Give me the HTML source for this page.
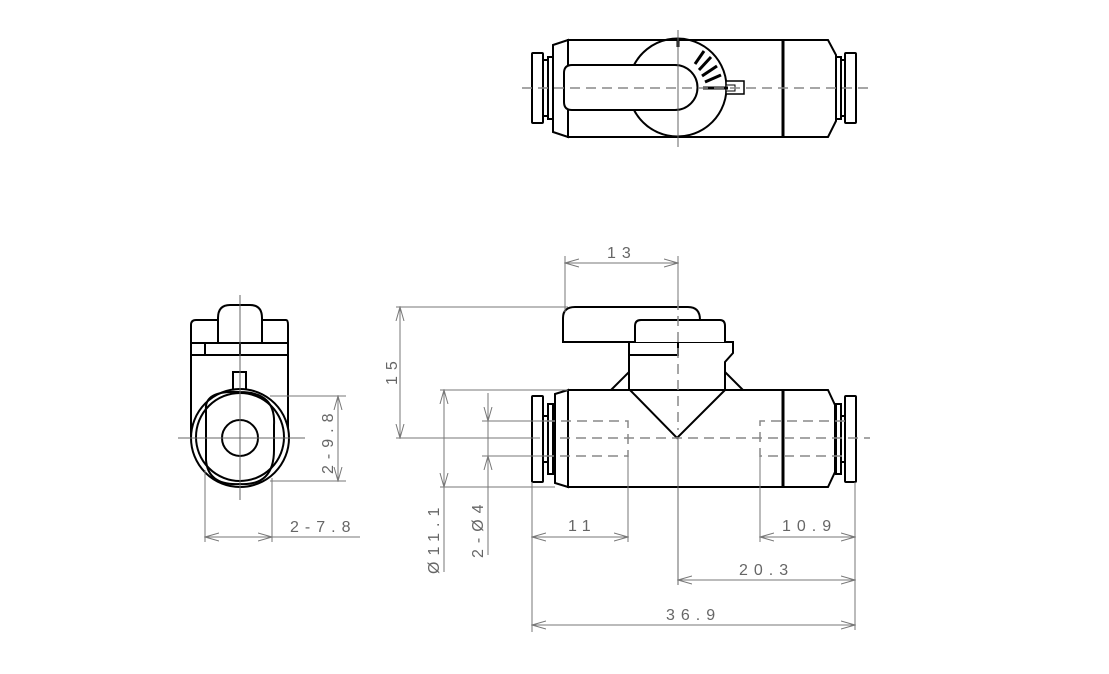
<!DOCTYPE html>
<html><head><meta charset="utf-8"><style>
html,body{margin:0;padding:0;background:#fff;}
svg{display:block;}
text{font-family:"Liberation Sans",sans-serif;font-size:16px;fill:#666;letter-spacing:6px;}
.k{stroke:#000;stroke-width:2;fill:#fff;}
.kn{stroke:#000;stroke-width:2;fill:none;}
.d{stroke:#777;stroke-width:1;fill:none;}
.c{stroke:#666;stroke-width:1;fill:none;}
.h{stroke:#888;stroke-width:1.5;fill:none;stroke-dasharray:10,6;}
</style></head><body>
<svg width="1109" height="674" viewBox="0 0 1109 674">
<defs>
<marker id="a" markerWidth="15" markerHeight="10" refX="14" refY="5" orient="auto-start-reverse" markerUnits="userSpaceOnUse">
<path d="M0,1 L14,5 L0,9" fill="none" stroke="#777" stroke-width="1"/>
</marker>
</defs>

<!-- TOP VIEW -->
<g>
<rect class="k" x="532" y="53" width="11" height="70" rx="1"/>
<rect class="k" x="543" y="60" width="5" height="56"/>
<rect class="k" x="548" y="57" width="5" height="62"/>
<path class="k" d="M553,45 L568,40 L568,137 L553,132 Z"/>
<rect class="k" x="568" y="40" width="215" height="97"/>
<path class="k" d="M783,40 L828,40 L836,55 L836,121 L828,137 L783,137 Z"/>
<line x1="783" y1="40" x2="783" y2="137" stroke="#000" stroke-width="3"/>
<rect class="k" x="836" y="57" width="5" height="62"/>
<rect class="k" x="841" y="60" width="4" height="56"/>
<rect class="k" x="845" y="53" width="11" height="70" rx="1"/>
<path class="kn" d="M634,65 A49,49 0 1,1 634,110" />
<path class="k" d="M572,65 L675,65 A22.5,22.5 0 0,1 675,110 L572,110 Q564,110 564,102 L564,73 Q564,65 572,65 Z"/>
<line x1="678" y1="40" x2="678" y2="47" stroke="#000" stroke-width="3"/>
<g stroke="#000" stroke-width="3">
<line x1="695" y1="64" x2="704" y2="51"/>
<line x1="699" y1="70" x2="711" y2="57"/>
<line x1="702" y1="76" x2="717" y2="66"/>
<line x1="705" y1="82" x2="721" y2="75"/>
</g>
<rect x="726" y="81" width="18" height="13" fill="#fff" stroke="#000" stroke-width="1.5"/>
<rect x="726" y="85" width="9" height="6" fill="#fff" stroke="#000" stroke-width="1"/>
<line x1="703" y1="88" x2="728" y2="88" stroke="#000" stroke-width="3"/>
<line class="h" x1="522" y1="88" x2="870" y2="88"/>
<line class="c" x1="678" y1="30" x2="678" y2="147"/>
</g>

<!-- FRONT VIEW -->
<g>
<path class="k" d="M563,342 L563,318 Q563,307 575,307 L688,307 Q700,307 700,320 L700,342 Z"/>
<path class="k" d="M629,390 L629,342 L733,342 L733,353 L725,362 L725,390 Z"/>
<path class="k" d="M635,342 L635,326 Q635,320 641,320 L720,320 Q725,320 725,326 L725,342"/>
<path class="kn" d="M629,355 L678,355 L678,342"/>
<path class="k" d="M611,390 L629,372 L629,390 Z"/>
<path class="k" d="M725,372 L743,390 L725,390 Z"/>
<rect class="k" x="532" y="396" width="11" height="86" rx="1"/>
<rect class="k" x="543" y="416" width="5" height="46"/>
<rect class="k" x="548" y="404" width="5" height="70"/>
<path class="k" d="M555,394 L568,390 L568,487 L555,483 Z"/>
<rect class="k" x="568" y="390" width="215" height="97"/>
<path class="k" d="M783,390 L828,390 L835,405 L835,472 L828,487 L783,487 Z"/>
<line x1="783" y1="390" x2="783" y2="487" stroke="#000" stroke-width="3"/>
<rect class="k" x="836" y="404" width="5" height="70"/>
<rect class="k" x="841" y="416" width="4" height="46"/>
<rect class="k" x="845" y="396" width="11" height="86" rx="1"/>
<path class="kn" d="M630,390 L677,438 L725,390"/>
<path class="h" d="M545,421 L628,421 L628,456 L545,456"/>
<path class="h" d="M845,421 L760,421 L760,456 L845,456"/>
<line class="h" x1="560" y1="438" x2="870" y2="438"/>
<line class="h" x1="678" y1="300" x2="678" y2="430" />
<line class="c" x1="678" y1="438" x2="678" y2="585"/>
</g>

<!-- SIDE VIEW -->
<g>
<path class="k" d="M191,438 L191,325 Q191,320 196,320 L286,320 Q288,320 288,325 L288,438"/>
<line class="kn" x1="191" y1="355" x2="288" y2="355"/>
<line class="kn" x1="191" y1="343" x2="288" y2="343"/>
<line class="kn" x1="205" y1="343" x2="205" y2="355"/>
<line class="kn" x1="240" y1="343" x2="240" y2="355"/>
<path class="k" d="M218,343 L218,318 Q218,305 230,305 L250,305 Q262,305 262,318 L262,343 Z"/>
<rect class="k" x="233" y="372" width="13" height="20"/>
<circle class="k" cx="240" cy="438" r="49"/>
<circle class="kn" cx="240" cy="437" r="44"/>
<path class="kn" d="M206,410 Q204,390 240,392 Q276,392 274,425 L274,450 Q274,486 240,484 Q208,486 206,460 Z"/>
<circle class="kn" cx="240" cy="438" r="18"/>
<line class="c" x1="240" y1="295" x2="240" y2="500"/>
<line class="c" x1="178" y1="438" x2="305" y2="438"/>
</g>

<!-- DIMENSIONS -->
<g>
<line class="d" x1="270" y1="396" x2="346" y2="396"/>
<line class="d" x1="270" y1="481" x2="346" y2="481"/>
<line class="d" x1="338" y1="396" x2="338" y2="481" marker-start="url(#a)" marker-end="url(#a)"/>
<text transform="translate(333,474) rotate(-90)">2-9.8</text>
<line class="d" x1="205" y1="470" x2="205" y2="542"/>
<line class="d" x1="272" y1="478" x2="272" y2="542"/>
<line class="d" x1="205" y1="537" x2="272" y2="537" marker-start="url(#a)" marker-end="url(#a)"/>
<line class="d" x1="272" y1="537" x2="360" y2="537"/>
<text x="290" y="532">2-7.8</text>
<line class="d" x1="565" y1="256" x2="565" y2="312"/>
<line class="d" x1="678" y1="256" x2="678" y2="300"/>
<line class="d" x1="565" y1="263" x2="678" y2="263" marker-start="url(#a)" marker-end="url(#a)"/>
<text x="607" y="258">13</text>
<line class="d" x1="396" y1="307" x2="568" y2="307"/>
<line class="d" x1="396" y1="438" x2="540" y2="438"/>
<line class="d" x1="400" y1="307" x2="400" y2="438" marker-start="url(#a)" marker-end="url(#a)"/>
<text transform="translate(397,385) rotate(-90)">15</text>
<line class="d" x1="440" y1="390" x2="568" y2="390"/>
<line class="d" x1="440" y1="487" x2="555" y2="487"/>
<line class="d" x1="444" y1="390" x2="444" y2="487" marker-start="url(#a)" marker-end="url(#a)"/>
<line class="d" x1="444" y1="487" x2="444" y2="572"/>
<text transform="translate(439,574) rotate(-90)">Ø11.1</text>
<line class="d" x1="482" y1="421" x2="545" y2="421"/>
<line class="d" x1="482" y1="456" x2="545" y2="456"/>
<line class="d" x1="488" y1="393" x2="488" y2="421" marker-end="url(#a)"/>
<line class="d" x1="488" y1="484" x2="488" y2="456" marker-end="url(#a)"/>
<line class="d" x1="488" y1="421" x2="488" y2="456"/>
<line class="d" x1="488" y1="484" x2="488" y2="555"/>
<text transform="translate(483,558) rotate(-90)">2-Ø4</text>
<line class="d" x1="532" y1="482" x2="532" y2="632"/>
<line class="d" x1="628" y1="456" x2="628" y2="542"/>
<line class="d" x1="532" y1="537" x2="628" y2="537" marker-start="url(#a)" marker-end="url(#a)"/>
<text x="568" y="531">11</text>
<line class="d" x1="760" y1="456" x2="760" y2="542"/>
<line class="d" x1="855" y1="482" x2="855" y2="630"/>
<line class="d" x1="760" y1="537" x2="855" y2="537" marker-start="url(#a)" marker-end="url(#a)"/>
<text x="782" y="531">10.9</text>
<line class="d" x1="678" y1="580" x2="855" y2="580" marker-start="url(#a)" marker-end="url(#a)"/>
<text x="739" y="575">20.3</text>
<line class="d" x1="532" y1="625" x2="855" y2="625" marker-start="url(#a)" marker-end="url(#a)"/>
<text x="666" y="620">36.9</text>
</g>
</svg>
</body></html>
